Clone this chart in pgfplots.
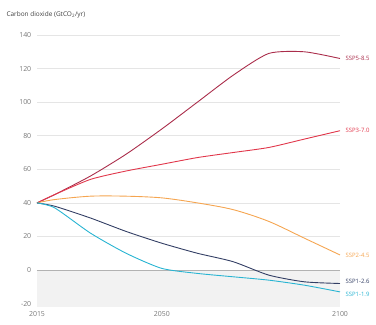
\documentclass[border=0pt]{standalone}
\usepackage{pgfplots}
\pgfplotsset{compat=1.18}
\usepackage{fontspec}
\setmainfont{Open Sans}
\definecolor{c19}{RGB}{40,180,210}
\definecolor{c26}{RGB}{50,62,100}
\definecolor{c45}{RGB}{245,165,80}
\definecolor{c70}{RGB}{225,55,75}
\definecolor{c85}{RGB}{170,45,75}
\definecolor{tk}{RGB}{120,120,120}
\begin{document}
\begin{tikzpicture}[x=1bp,y=1bp]
\useasboundingbox (0,0) rectangle (376,325);
\node[anchor=west,font=\fontsize{6.5}{7}\selectfont,text=black!75] at (3,310) {Carbon dioxide (GtCO\textsubscript{2}/yr)};
\begin{axis}[
  at={(37bp,18bp)}, anchor=south west,
  scale only axis, width=303bp, height=272bp,
  xmin=2015, xmax=2100, ymin=-22, ymax=140,
  axis line style={draw=none},
  clip=false,
  xtick={2015,2050,2100},
  ytick={-20,0,20,40,60,80,100,120,140},
  ymajorgrids, grid style={black!10, line width=0.6pt},
  /pgf/number format/assume math mode=true,
  /pgf/number format/1000 sep={},
  tick label style={font=\fontsize{7}{8}\selectfont, text=tk},
  yticklabel style={xshift=-2bp},
  xticklabel style={yshift=-1bp},
  major tick length=0pt,
  line width=0.9pt,
  every axis plot/.append style={line join=round},
]
\fill[black!5] (axis cs:2015,0) rectangle (axis cs:2100,-22);
\draw[black!30, line width=0.7pt] (axis cs:2015,0) -- (axis cs:2100,0);
\addplot[c85, smooth, tension=0.4] coordinates {(2015,40) (2020,45) (2030,56) (2040,69) (2050,84) (2060,100) (2070,116) (2080,129) (2090,130) (2100,126)};
\addplot[c70, smooth, tension=0.4] coordinates {(2015,40) (2020,45) (2030,54) (2040,59) (2050,63) (2060,67) (2070,70) (2080,73) (2090,78) (2100,83)};
\addplot[c45, smooth, tension=0.5] coordinates {(2015,40) (2020,42) (2030,44) (2040,44) (2050,43) (2060,40) (2070,36) (2080,29) (2090,19) (2100,9)};
\addplot[c26, smooth, tension=0.4] coordinates {(2015,40) (2020,38) (2030,31) (2040,23) (2050,16) (2060,10) (2070,5) (2080,-3) (2090,-7) (2100,-8)};
\addplot[c19, smooth, tension=0.4] coordinates {(2015,40) (2020,37) (2030,22) (2040,10) (2050,1) (2060,-2) (2070,-4) (2080,-6) (2090,-9) (2100,-13)};
\begin{scope}[font=\fontsize{6}{7}\selectfont]
\node[anchor=west,text=c85] at (axis cs:2100.5,126) {SSP5-8.5};
\node[anchor=west,text=c70] at (axis cs:2100.5,83) {SSP3-7.0};
\node[anchor=west,text=c45] at (axis cs:2100.5,9) {SSP2-4.5};
\node[anchor=west,text=c26] at (axis cs:2100.5,-7) {SSP1-2.6};
\node[anchor=west,text=c19] at (axis cs:2100.5,-14.5) {SSP1-1.9};
\end{scope}
\end{axis}
\end{tikzpicture}
\end{document}
